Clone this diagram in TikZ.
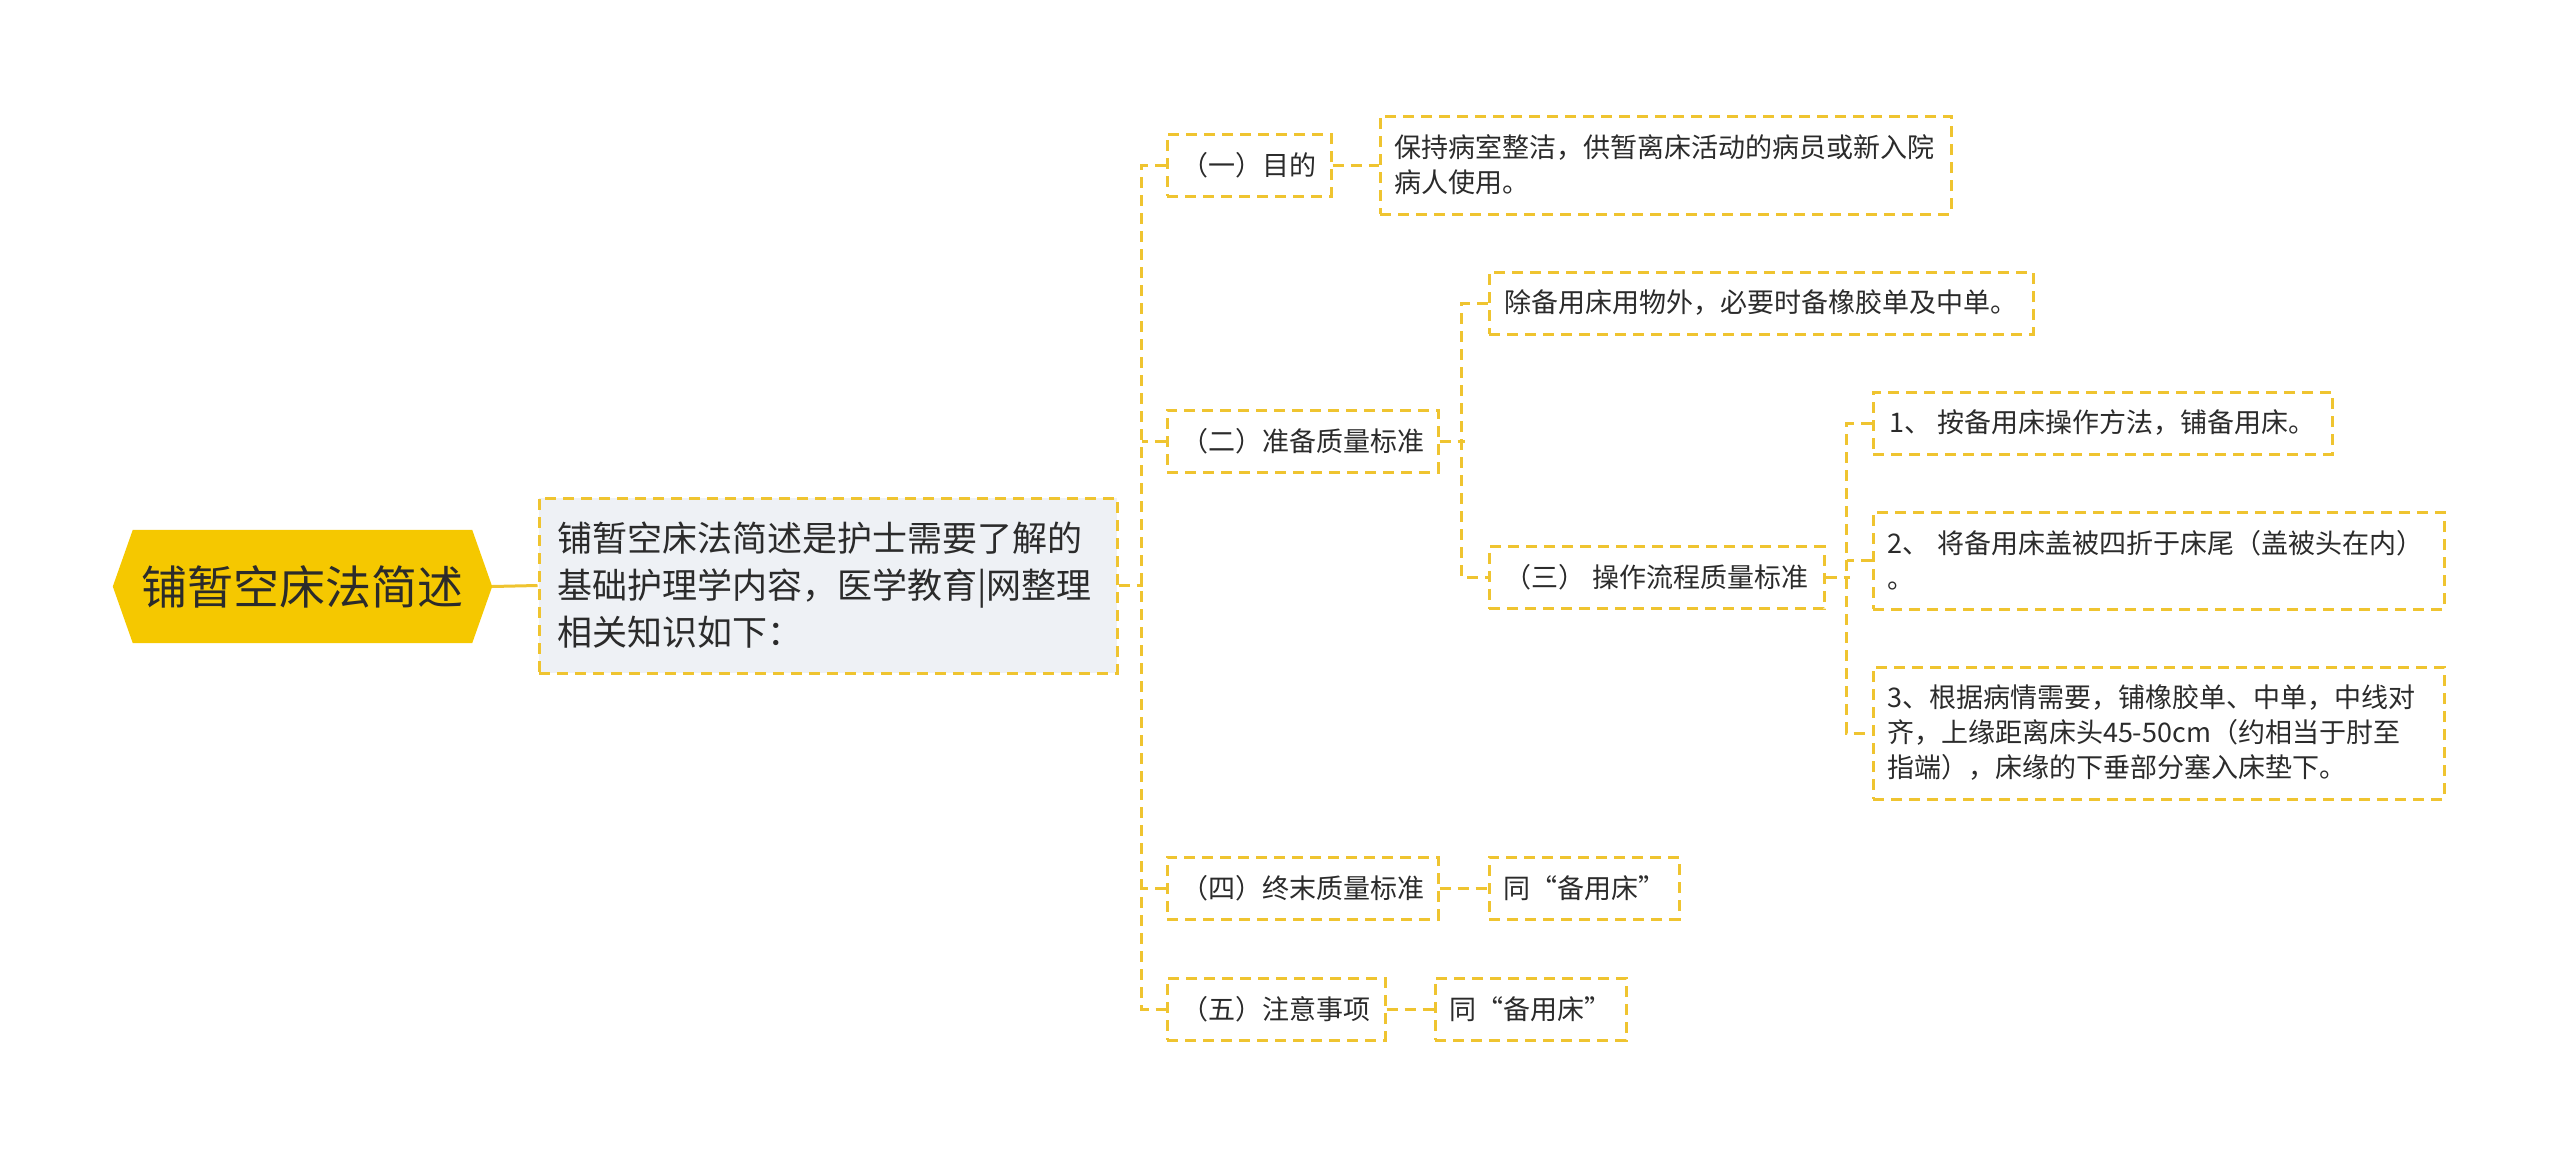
\documentclass[tikz,border=0pt]{standalone}
\usepackage{fontspec}
\setmainfont{Noto Sans CJK SC}
\usetikzlibrary{backgrounds}
\definecolor{lineY}{HTML}{EFC430}
\definecolor{rootY}{HTML}{F5C800}
\definecolor{mainF}{HTML}{EEF1F5}
\definecolor{txt}{HTML}{2B2B2B}
\newcommand\fsmall{\fontsize{27}{35}\selectfont}
\newcommand\fmid{\fontsize{35}{47}\selectfont}
\newcommand\fbig{\fontsize{46}{55}\selectfont}
\tikzset{
  box/.style={draw=lineY, line width=3pt, dash pattern=on 11pt off 7pt,
    inner xsep=14pt, inner ysep=0pt, minimum height=62pt, font=\fsmall,
    text=txt, anchor=center},
  mbox/.style={box, align=left},
  conn/.style={draw=lineY, line width=3pt, dash pattern=on 11pt off 7pt},
}
\begin{document}
\begin{tikzpicture}[x=1pt,y=-1pt]
\useasboundingbox (0,0) rectangle (2560,1156);
% root
\node[minimum width=339pt, minimum height=113pt, inner sep=0pt, font=\fbig, text=txt]
  (root) at (302.5,586.5) {铺暂空床法简述};
\begin{pgfonlayer}{background}
\fill[rootY] (root.north west) -- (root.north east) -- ([xshift=20pt]root.east)
  -- (root.south east) -- (root.south west) -- ([xshift=-20pt]root.west) -- cycle;
\end{pgfonlayer}
% main
\node[box, fill=mainF, minimum width=578pt, minimum height=175pt, font=\fmid,
  inner xsep=18pt, text width=542pt, align=left] (main) at (828,585.5)
  {铺暂空床法简述是护士需要了解的\\基础护理学内容，医学教育|网整理\\相关知识如下：};
\draw[draw=lineY, line width=3pt] ([xshift=20pt]root.east) -- (main.west);
% level 1
\node[box, minimum width=164pt] (l1) at (1249,165) {（一）目的};
\node[box, minimum width=271pt] (l2) at (1302.5,441) {（二）准备质量标准};
\node[box, minimum width=271pt] (l4) at (1302.5,888) {（四）终末质量标准};
\node[box, minimum width=218pt] (l5) at (1276,1009) {（五）注意事项};
% level 2
\node[mbox, minimum width=571pt, minimum height=98pt, text width=543pt] (c1) at (1665.5,165)
  {保持病室整洁，供暂离床活动的病员或新入院\\病人使用。};
\node[box, minimum width=544pt] (c2a) at (1761,303) {除备用床用物外，必要时备橡胶单及中单。};
\node[box, minimum width=335pt] (c2b) at (1656.5,577.5) {（三） 操作流程质量标准};
\node[box, minimum width=190pt] (c4) at (1584,888) {同“备用床”};
\node[box, minimum width=191pt] (c5) at (1530.5,1009) {同“备用床”};
% level 3
\node[box, minimum width=459pt] (d1) at (2102.5,423) {1、 按备用床操作方法，铺备用床。};
\node[mbox, minimum width=571pt, minimum height=97pt, text width=543pt] (d2) at (2158.5,560.5)
  {2、 将备用床盖被四折于床尾（盖被头在内）\\。};
\node[mbox, minimum width=571pt, minimum height=132pt, text width=543pt] (d3) at (2158.5,733)
  {3、根据病情需要，铺橡胶单、中单，中线对\\齐，上缘距离床头45-50cm（约相当于肘至\\指端），床缘的下垂部分塞入床垫下。};
% connectors
\coordinate (tk) at (1143,585.5);
\draw[conn] (main.east) -- (tk);
\draw[conn] (l1.west) -- ++(-24,0) |- (l5.west);
\draw[conn] (l2.west) -- ++(-24,0);
\draw[conn] (l4.west) -- ++(-24,0);
\draw[conn] (l1.east) -- (c1.west);
\draw[conn] (l4.east) -- (c4.west);
\draw[conn] (l5.east) -- (c5.west);
\draw[conn] (l2.east) -- ++(25,0);
\draw[conn] (c2a.west) -- ++(-26,0) |- (c2b.west);
\draw[conn] (c2b.east) -- ++(24,0);
\draw[conn] (d1.west) -- ++(-25,0) |- (d3.west);
\draw[conn] (d2.west) -- ++(-25,0);
\end{tikzpicture}
\end{document}
